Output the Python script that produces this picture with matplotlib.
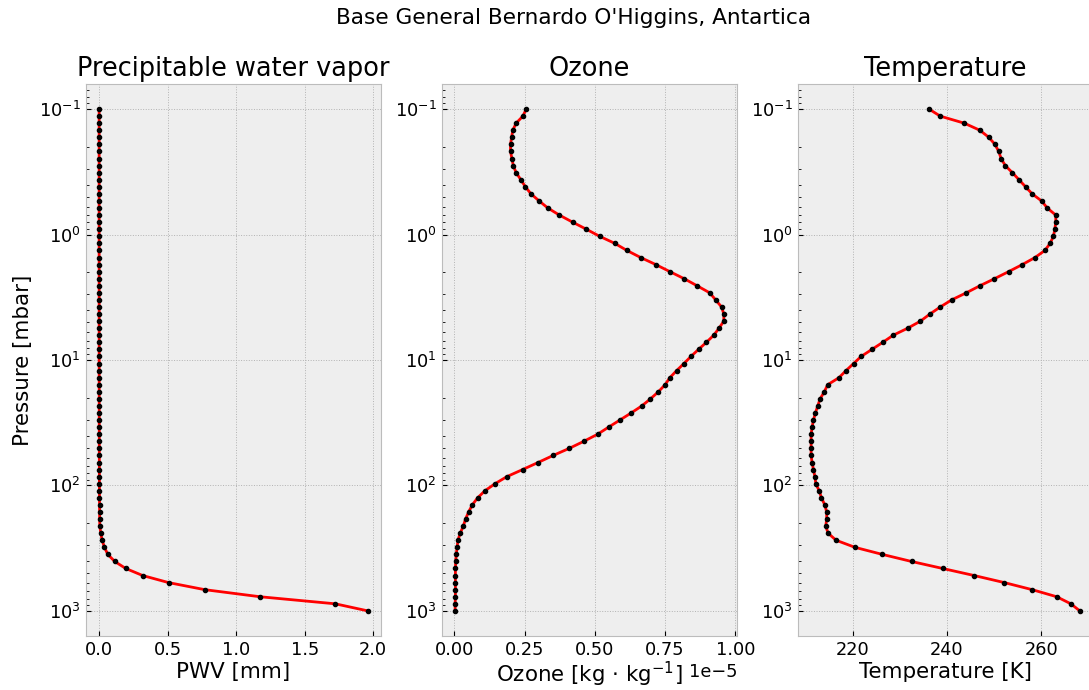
import matplotlib
matplotlib.use('Agg')
import matplotlib.pyplot as plt

# Pressure levels [mbar] (log-spaced, top to bottom)
pressure = [0.1, 0.1139, 0.1296, 0.1476, 0.1680, 0.1913, 0.2178, 0.2480, 0.2824,
            0.3215, 0.3660, 0.4167, 0.4745, 0.5402, 0.6150, 0.7002, 0.7972, 0.9077,
            1.033, 1.176, 1.339, 1.525, 1.736, 1.976, 2.250, 2.562, 2.917,
            3.321, 3.781, 4.305, 4.901, 5.580, 6.354, 7.234, 8.236, 9.377,
            10.68, 12.16, 13.84, 15.76, 17.94, 20.42, 23.25, 26.48, 30.14,
            34.32, 39.07, 44.49, 50.65, 57.67, 65.66, 74.75, 85.11, 96.90,
            110.3, 125.6, 143.0, 162.8, 185.4, 211.1, 240.3, 273.6, 311.5,
            354.6, 403.8, 459.1, 522.7, 595.1, 677.5, 771.4, 878.3, 1000.0]

# Precipitable water vapor per level [mm]
pwv = [0.0, 0.0, 0.0, 0.0, 0.0, 0.0, 0.0, 0.0, 0.0,
       0.0, 0.0, 0.0, 0.0, 0.0, 0.0, 0.0, 0.0, 0.0,
       0.0, 0.0, 0.0, 0.0, 0.0001, 0.0001, 0.0001, 0.0001, 0.0001,
       0.0001, 0.0001, 0.0001, 0.0001, 0.0002, 0.0002, 0.0002, 0.0002, 0.0002,
       0.0003, 0.0003, 0.0003, 0.0004, 0.0004, 0.0005, 0.0005, 0.0006, 0.0007,
       0.0008, 0.0009, 0.001, 0.0011, 0.0012, 0.0014, 0.0016, 0.0018, 0.002,
       0.0022, 0.0025, 0.0028, 0.0032, 0.0038, 0.005, 0.012, 0.022, 0.039,
       0.063, 0.114, 0.194, 0.318, 0.507, 0.771, 1.174, 1.724, 1.961]

# Ozone mass mixing ratio [1e-5 kg/kg]
ozone = [0.256, 0.244, 0.220, 0.208, 0.204, 0.200, 0.200, 0.205, 0.210,
         0.220, 0.237, 0.253, 0.273, 0.302, 0.333, 0.374, 0.421, 0.470,
         0.517, 0.571, 0.614, 0.663, 0.717, 0.767, 0.818, 0.864, 0.909,
         0.930, 0.951, 0.959, 0.959, 0.942, 0.923, 0.897, 0.869, 0.842,
         0.817, 0.791, 0.767, 0.750, 0.726, 0.698, 0.667, 0.629, 0.589,
         0.549, 0.510, 0.461, 0.409, 0.352, 0.298, 0.243, 0.187, 0.145,
         0.109, 0.083, 0.064, 0.051, 0.040, 0.032, 0.021, 0.013, 0.010,
         0.007, 0.005, 0.004, 0.004, 0.004, 0.004, 0.004, 0.003, 0.003]
ozone = [v * 1e-5 for v in ozone]

# Temperature [K]
temperature = [236.2, 238.6, 243.7, 247.0, 248.9, 250.2, 251.0, 251.5, 252.4,
               253.9, 255.3, 256.7, 258.1, 260.1, 261.3, 263.1, 263.1, 262.9,
               262.6, 261.9, 260.8, 258.7, 256.0, 253.1, 250.1, 247.0, 244.1,
               241.0, 238.6, 236.4, 234.4, 231.7, 228.6, 226.4, 224.1, 221.8,
               220.2, 218.6, 217.1, 214.7, 214.0, 213.1, 212.6, 212.1, 211.7,
               211.4, 211.2, 211.2, 211.2, 211.2, 211.4, 211.7, 212.0, 212.2,
               212.9, 213.4, 214.1, 214.5, 214.5, 214.3, 214.8, 216.5, 220.5,
               226.3, 232.5, 239.1, 245.8, 252.2, 258.1, 263.3, 266.3, 268.2]

titles = ['Precipitable water vapor', 'Ozone', 'Temperature']
xlabels = ['PWV [mm]', r'Ozone [kg $\cdot$ kg$^{-1}$]', 'Temperature [K]']
suptitle = "Base General Bernardo O'Higgins, Antartica"

plt.style.use('bmh')
plt.rcParams['font.size'] = 12.8
plt.rcParams['mathtext.fontset'] = 'dejavusans'
plt.rcParams['xtick.direction'] = 'in'
plt.rcParams['ytick.direction'] = 'in'
plt.rcParams['grid.linestyle'] = ':'
plt.rcParams['grid.linewidth'] = 0.7

fig = plt.figure(figsize=(10.89, 6.90), dpi=100)
# Axes placed by hand (the original was cropped on the right)
lefts = [0.0787, 0.4056, 0.7325]
axes = [fig.add_axes([l, 0.0783, 0.2714, 0.80]) for l in lefts]

for ax, xdata, title, xlabel in zip(axes, [pwv, ozone, temperature], titles, xlabels):
    ax.plot(xdata, pressure, color='red', linewidth=2.0)
    ax.plot(xdata, pressure, 'k.', markersize=6)
    ax.set_yscale('log')
    ax.invert_yaxis()
    ax.set_title(title)
    ax.set_xlabel(xlabel, labelpad=2)

# superscript makes the ozone label box taller
axes[1].xaxis.labelpad = 1
axes[0].set_ylabel('Pressure [mbar]')
fig.suptitle(suptitle, x=0.5267, y=0.974, va='center', fontsize=15.6)

plt.savefig('out.png', dpi=100)
plt.close()
